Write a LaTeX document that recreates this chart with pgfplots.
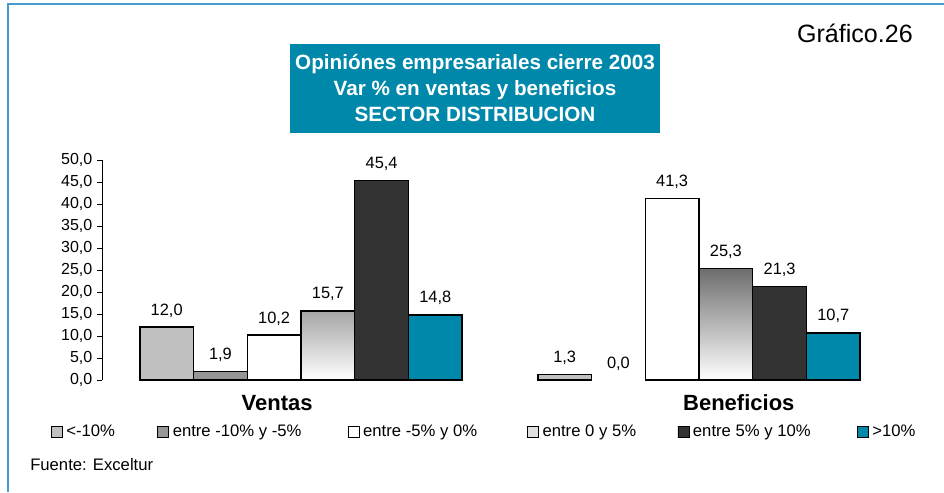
\documentclass[border=0pt]{standalone}
\usepackage{pgfplots}
\pgfplotsset{compat=1.18}
\usepackage{fontspec}
\setmainfont{Liberation Sans}
\definecolor{teal1}{RGB}{0,136,170}
\definecolor{frameblue}{RGB}{70,155,205}
\definecolor{lgray}{RGB}{192,192,192}
\definecolor{mgray}{RGB}{150,150,150}
\definecolor{dgray}{RGB}{51,51,51}
\pgfkeys{/pgf/number format/.cd, fixed, fixed zerofill, precision=1, use comma, assume math mode=true}
\pgfplotsset{
  sq/.style={legend image code/.code={\path[draw=black, line width=0.6pt, fill=#1, top color=#1, bottom color=#1] (0pt,-4.1pt) rectangle (8.25pt,4.1pt); \path[draw=none, fill=none] (0pt,0pt) -- (11.25pt,0pt);}},
}
\begin{document}
\begin{tikzpicture}
\path[use as bounding box] (0,0) rectangle (708pt,369pt);
\begin{scope}[x=0.75pt,y=0.75pt]
\draw[frameblue, line width=1.5pt] (8,0) -- (8,488) -- (944,488);
\fill[teal1] (290,492-44) rectangle (660,492-133);
\node[text=white, font=\bfseries\fontsize{15.5}{19.5}\selectfont, align=center] at (475,492-88) {Opiniónes empresariales cierre 2003\\Var \% en ventas y beneficios\\SECTOR DISTRIBUCION};
\node[anchor=east, inner sep=0pt, font=\fontsize{18.8}{21}\selectfont] at (913,492-33) {Gráfico.26};
\node[anchor=west, inner sep=0pt, font=\fontsize{12.5}{14}\selectfont] at (30,492-465) {Fuente: Exceltur};
\end{scope}
\begin{axis}[
  at={(76.5pt,84pt)}, anchor=south west,
  scale only axis, width=597pt, height=165pt,
  xmin=-0.5, xmax=1.5, ymin=0, ymax=50,
  ybar=0pt, bar width=0.135,
  axis x line*=bottom, axis y line*=left,
  x axis line style={draw=none},
  y axis line style={line width=0.75pt},
  xtick={-0.06,1.10}, xticklabels={Ventas,Beneficios},
  xtick style={draw=none},
  x tick label style={font=\bfseries\fontsize{16.5}{19}\selectfont, anchor=base, yshift=-18.75pt},
  ytick={0,5,...,50},
  tick align=outside, major tick length=3.75pt,
  ytick style={line width=0.75pt, black},
  y tick label style={font=\fontsize{12}{14}\selectfont},
  nodes near coords,
  every node near coord/.append style={font=\fontsize{12.3}{14}\selectfont, text=black, anchor=base, inner sep=0pt, yshift=9pt},
  legend columns=6,
  legend style={at={(axis description cs:-0.0641,-0.2364)}, anchor=west, draw=none, fill=none, inner sep=0pt, outer sep=0pt, column sep=0pt, font=\fontsize{12.5}{14}\selectfont, cells={anchor=west}, nodes={inner sep=0pt}},
]
\addplot[draw=black, line width=1.1pt, fill=lgray, bar shift=-0.3375, sq=lgray] coordinates {(0,12.0) (1,1.3)};
\addlegendentry{\makebox[68.25pt][l]{<-10\%}}
\addplot[draw=black, line width=1.1pt, fill=mgray, bar shift=-0.2025, sq=mgray] coordinates {(0,1.9)};
\addlegendentry{\makebox[131.25pt][l]{entre -10\% y -5\%}}
\addplot[draw=black, line width=1.1pt, fill=white, bar shift=-0.0675, sq=white] coordinates {(0,10.2) (1,41.3)};
\addlegendentry{\makebox[123pt][l]{entre -5\% y 0\%}}
\addplot[draw=black, line width=1.1pt, top color=black!57, bottom color=white, bar shift=0.0675, sq=black!12] coordinates {(0,15.7) (1,25.3)};
\addlegendentry{\makebox[101.25pt][l]{entre 0 y 5\%}}
\addplot[draw=black, line width=1.1pt, fill=dgray, bar shift=0.2025, sq=dgray] coordinates {(0,45.4) (1,21.3)};
\addlegendentry{\makebox[123pt][l]{entre 5\% y 10\%}}
\addplot[draw=black, line width=1.1pt, fill=teal1, bar shift=0.3375, sq=teal1] coordinates {(0,14.8) (1,10.7)};
\addlegendentry{>10\%}
\addplot[draw=none, fill=none, bar shift=-0.2025, forget plot] coordinates {(1,0.0)};
\end{axis}
\end{tikzpicture}
\end{document}
